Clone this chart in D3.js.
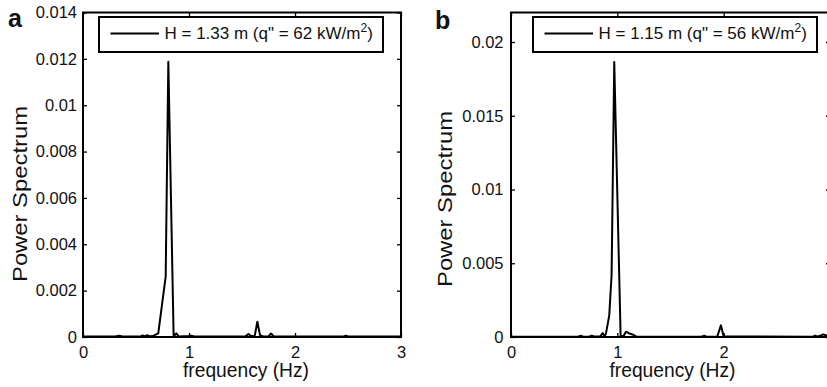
<!DOCTYPE html>
<html><head><meta charset="utf-8">
<script src="https://cdn.jsdelivr.net/npm/d3@7"></script>
<style>
body{margin:0;background:#fff}
svg{display:block}
text{font-family:"Liberation Sans",Arial,Helvetica,sans-serif;fill:#111}
</style>
</head><body>
<svg id="c" width="827" height="387"></svg>
<script>
// ---- data (panel a) ----
const freqA  = [0, 0.30, 0.343, 0.37, 0.54, 0.563, 0.585, 0.607, 0.63, 0.66, 0.685, 0.71, 0.78, 0.805, 0.855, 0.88, 0.905, 1.0, 1.02, 1.05, 1.53, 1.56, 1.59, 1.62, 1.645, 1.67, 1.70, 1.75, 1.774, 1.80, 2.46, 2.48, 2.50, 3.0];
const powerA = [0.00002, 0.00002, 0.00006, 0.00002, 0.00002, 0.00007, 0.00003, 0.00008, 0.00003, 0.00004, 0.0001, 0.00016, 0.0026, 0.01187, 0.00003, 0.00016, 0.00002, 0.00004, 0.00006, 0.00002, 0.00002, 0.00013, 0.00003, 0.00005, 0.00066, 0.00008, 0.00002, 0.00003, 0.00015, 0.00002, 0.00002, 0.00006, 0.00002, 0.00002];
// ---- data (panel b) ----
const freqB  = [0, 0.63, 0.655, 0.68, 0.735, 0.758, 0.78, 0.84, 0.862, 0.88, 0.893, 0.924, 0.946, 0.971, 1.031, 1.06, 1.081, 1.12, 1.15, 1.18, 1.79, 1.814, 1.84, 1.94, 1.974, 2.0, 2.84, 2.86, 2.88, 2.91, 2.935, 2.96, 3.0];
const powerB = [0.00002, 0.00002, 0.00008, 0.00002, 0.00002, 0.00009, 0.00003, 0.00004, 0.00027, 0.00005, 0.00023, 0.00147, 0.0042, 0.01864, 0.00003, 0.00008, 0.00036, 0.00022, 0.00015, 0.00003, 0.00002, 0.00008, 0.00002, 0.00003, 0.00079, 0.00003, 0.00002, 0.0001, 0.00003, 0.00008, 0.00018, 0.00012, 0.00005];

// ---- ticks ----
const xTicksA = [0, 1, 2, 3];
const xTickLabelsA = ["0", "1", "2", "3"];
const yTicksA = [0, 0.002, 0.004, 0.006, 0.008, 0.01, 0.012, 0.014];
const yTickLabelsA = ["0", "0.002", "0.004", "0.006", "0.008", "0.01", "0.012", "0.014"];
const xTicksB = [0, 1, 2];
const xTickLabelsB = ["0", "1", "2"];
const yTicksB = [0, 0.005, 0.01, 0.015, 0.02];
const yTickLabelsB = ["0", "0.005", "0.01", "0.015", "0.02"];

// ---- text ----
const legendTextA = ["H = 1.33 m (q\" = 62 kW/m", "2", ")"];
const legendTextB = ["H = 1.15 m (q\" = 56 kW/m", "2", ")"];
const panelLetters = ["a", "b"];
const xTitle = "frequency (Hz)";
const yTitle = "Power Spectrum";

const svg = d3.select("#c");

function panel(o) {
  const x = d3.scaleLinear().domain([0, 3]).range([o.x0, o.x1]);
  const y = d3.scaleLinear().domain([0, o.ymax]).range([337, 12.5]);
  const g = svg.append("g");

  // data line
  const pts = o.freq.map((f, i) => [f, o.power[i]]);
  g.append("path").datum(pts)
    .attr("fill", "none").attr("stroke", "#000").attr("stroke-width", 2)
    .attr("stroke-linejoin", "round")
    .attr("d", d3.line().x(d => x(d[0])).y(d => y(d[1])));

  const styleAxis = sel => {
    sel.select(".domain").remove();
    sel.selectAll(".tick line").attr("stroke", "#000").attr("stroke-width", 1.3);
    sel.selectAll("text").attr("font-size", 16.5).attr("fill", "#111")
      .attr("font-family", "Liberation Sans, Arial, Helvetica, sans-serif");
  };

  g.append("g").attr("transform", `translate(${o.x0},0)`)
    .call(d3.axisLeft(y).tickValues(o.yTicks).tickFormat((d, i) => o.yLabels[i]).tickSize(-4).tickPadding(o.yPad))
    .call(styleAxis);
  g.append("g").attr("transform", `translate(${o.x1},0)`)
    .call(d3.axisRight(y).tickValues(o.yTicks).tickFormat("").tickSize(-4))
    .call(styleAxis);
  g.append("g").attr("transform", `translate(0,337)`)
    .call(d3.axisBottom(x).tickValues(o.xTicks).tickFormat((d, i) => o.xLabels[i]).tickSize(-4).tickPadding(9))
    .call(styleAxis);
  g.append("g").attr("transform", `translate(0,12.5)`)
    .call(d3.axisTop(x).tickValues(o.xTicks).tickFormat("").tickSize(-4))
    .call(styleAxis);

  // frame
  g.append("rect").attr("x", o.x0).attr("y", 12.5)
    .attr("width", o.x1 - o.x0).attr("height", 337 - 12.5)
    .attr("fill", "none").attr("stroke", "#000").attr("stroke-width", 2);

  // legend
  g.append("rect").attr("x", o.lx).attr("y", 17).attr("width", 284).attr("height", 35)
    .attr("fill", "#fff").attr("stroke", "#000").attr("stroke-width", 2);
  g.append("line").attr("x1", o.lx + 11.5).attr("x2", o.lx + 60).attr("y1", 33.5).attr("y2", 33.5)
    .attr("stroke", "#000").attr("stroke-width", 2);
  const lt = g.append("text").attr("x", o.lx + 65.5).attr("y", 39).attr("font-size", 17);
  lt.append("tspan").text(o.legend[0]);
  lt.append("tspan").attr("font-size", 12).attr("dy", -7).text(o.legend[1]);
  lt.append("tspan").attr("dy", 7).text(o.legend[2]);

  // axis titles
  g.append("text").attr("x", o.xtx).attr("y", 377).attr("text-anchor", "middle")
    .attr("font-size", 20).attr("textLength", 126).attr("lengthAdjust", "spacingAndGlyphs").text(xTitle);
  g.append("text").attr("transform", `translate(${o.ytx},${o.yty}) rotate(-90)`)
    .attr("text-anchor", "middle").attr("font-size", 20.5)
    .attr("textLength", 176).attr("lengthAdjust", "spacingAndGlyphs").text(yTitle);

  // panel letter
  g.append("text").attr("x", o.px).attr("y", o.py).attr("font-size", 25).attr("font-weight", "bold")
    .attr("fill", "#000").text(o.letter);
}

panel({x0: 83, x1: 401, ymax: 0.014, freq: freqA, power: powerA,
  xTicks: xTicksA, xLabels: xTickLabelsA, yTicks: yTicksA, yLabels: yTickLabelsA, yPad: 6,
  lx: 99, legend: legendTextA, xtx: 246, ytx: 27, yty: 194, px: 8, py: 27, letter: panelLetters[0]});
panel({x0: 511, x1: 830, ymax: 0.022, freq: freqB, power: powerB,
  xTicks: xTicksB, xLabels: xTickLabelsB, yTicks: yTicksB, yLabels: yTickLabelsB, yPad: 7.5,
  lx: 533, legend: legendTextB, xtx: 672.5, ytx: 452, yty: 199, px: 435, py: 29, letter: panelLetters[1]});
</script>
</body></html>
